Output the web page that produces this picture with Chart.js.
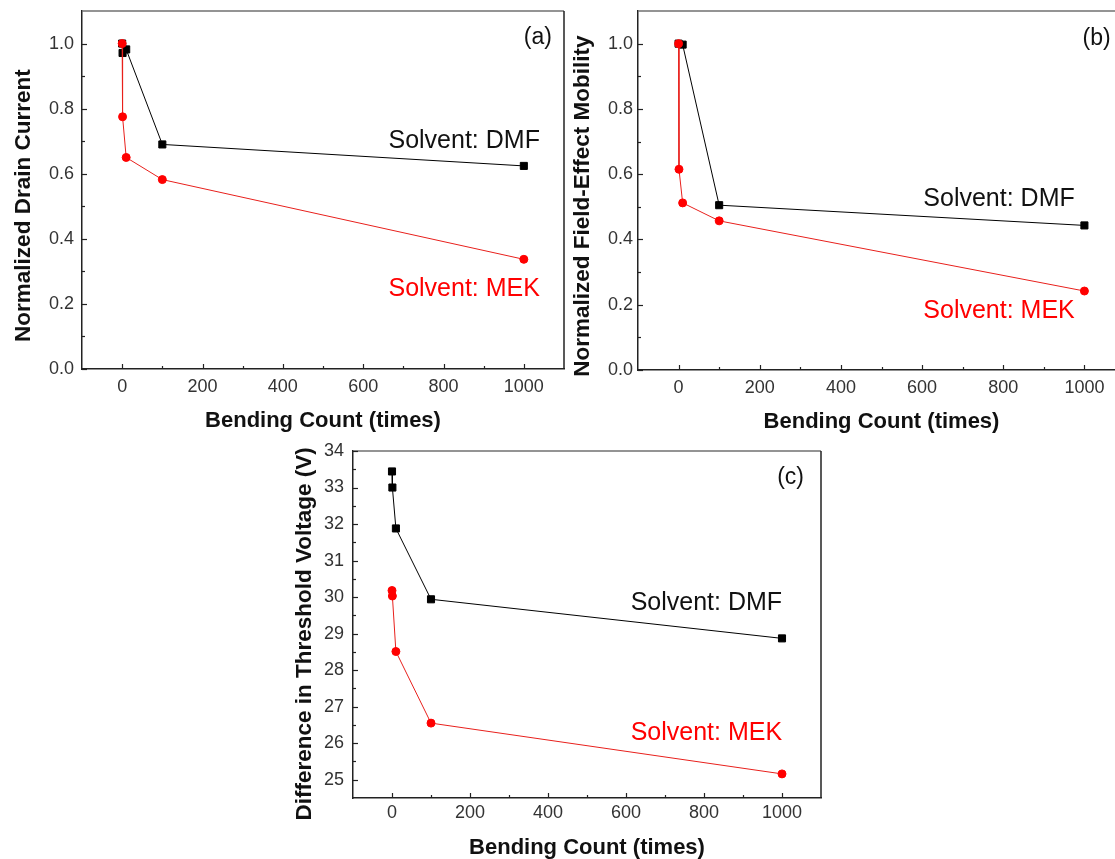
<!DOCTYPE html>
<html>
<head>
<meta charset="utf-8">
<script src="https://cdn.jsdelivr.net/npm/chart.js@4/dist/chart.umd.min.js"></script>
<style>
html, body { margin: 0; padding: 0; background: #ffffff; overflow: hidden; width: 1115px; height: 859px; }
canvas { position: absolute; display: block; }
</style>
</head>
<body>
<canvas id="ca" width="580" height="440" style="left:0px;top:0px"></canvas>
<canvas id="cb" width="580" height="440" style="left:560px;top:0px"></canvas>
<canvas id="cc" width="560" height="429" style="left:280px;top:430px"></canvas>
<script>
// ---------- data ----------
const bendCount   = [0, 1, 10, 100, 1000];
const xTicks      = [0, 200, 400, 600, 800, 1000];
const xMinor      = [100, 300, 500, 700, 900];
const normTicks   = [0, 0.2, 0.4, 0.6, 0.8, 1.0];
const normMinor   = [0.1, 0.3, 0.5, 0.7, 0.9];
const vthTicks    = [25, 26, 27, 28, 29, 30, 31, 32, 33, 34];
const vthMinor    = [25.5, 26.5, 27.5, 28.5, 29.5, 30.5, 31.5, 32.5, 33.5];

const drainMEK    = [1.0, 0.775, 0.65, 0.582, 0.337];
const drainDMF    = [1.0, 0.971, 0.982, 0.69, 0.624];
const mobilityMEK = [1.0, 0.615, 0.512, 0.457, 0.242];
const mobilityDMF = [1.0, null, 0.997, 0.505, 0.443];
const vthMEK      = [30.18, 30.03, 28.51, 26.55, 25.16];
const vthDMF      = [33.44, 33.0, 31.88, 29.94, 28.87];

const seriesNames = ['Solvent: MEK', 'Solvent: DMF'];

// ---------- styling ----------
const FONT = 'Arial, "Liberation Sans", Helvetica, sans-serif';
const RED = '#ff0000';

function framePlugin(conf) {
  return {
    id: 'frame_' + conf.id,
    afterDraw(chart) {
      const ctx = chart.ctx;
      const a = chart.chartArea;
      const xs = chart.scales.x, ys = chart.scales.y;
      ctx.save();
      // top & right border
      ctx.lineWidth = 1.5;
      ctx.strokeStyle = '#707070';
      ctx.beginPath(); ctx.moveTo(a.left, a.top); ctx.lineTo(a.right, a.top); ctx.stroke();
      ctx.strokeStyle = '#222222';
      ctx.beginPath(); ctx.moveTo(a.right, a.top); ctx.lineTo(a.right, a.bottom); ctx.stroke();
      // inward ticks
      ctx.lineWidth = 1.2;
      ctx.strokeStyle = '#222222';
      const tick = (vals, len, axis) => {
        vals.forEach(v => {
          ctx.beginPath();
          if (axis === 'x') {
            const p = Math.round(xs.getPixelForValue(v)) + 0.5;
            ctx.moveTo(p, a.bottom); ctx.lineTo(p, a.bottom - len);
          } else {
            const p = Math.round(ys.getPixelForValue(v)) + 0.5;
            ctx.moveTo(a.left, p); ctx.lineTo(a.left + len, p);
          }
          ctx.stroke();
        });
      };
      tick(conf.xMajor, 5, 'x'); tick(conf.xMinor, 3, 'x');
      tick(conf.yMajor, 5, 'y'); tick(conf.yMinor, 3, 'y');
      // annotations
      ctx.textBaseline = 'middle';
      conf.notes.forEach(n => {
        ctx.font = n.size + 'px ' + FONT;
        ctx.fillStyle = n.color;
        ctx.textAlign = n.align;
        ctx.fillText(n.text, xs.getPixelForValue(n.x), ys.getPixelForValue(n.y));
      });
      ctx.restore();
    }
  };
}

function makeChart(conf) {
  const mk = (vals) => bendCount.map((x, i) => ({ x: x, y: vals[i] }));
  return new Chart(document.getElementById(conf.id), {
    type: 'line',
    data: {
      datasets: [
        { label: seriesNames[0], data: mk(conf.mek), borderColor: '#e8201c', borderWidth: 1,
          pointStyle: 'circle', pointRadius: 4, pointBackgroundColor: RED, pointBorderColor: RED,
          pointBorderWidth: 1, spanGaps: true, tension: 0, clip: false },
        { label: seriesNames[1], data: mk(conf.dmf), borderColor: '#000000', borderWidth: 1,
          pointStyle: 'rect', pointRadius: 5, pointBackgroundColor: '#000000', pointBorderColor: '#000000',
          pointBorderWidth: 1, spanGaps: true, tension: 0, clip: false }
      ]
    },
    options: {
      responsive: false, animation: false, devicePixelRatio: 1,
      layout: { padding: { top: conf.padTop, right: conf.padRight, left: 0, bottom: 0 } },
      plugins: { legend: { display: false }, tooltip: { enabled: false } },
      scales: {
        x: {
          type: 'linear', min: -100, max: 1100,
          afterBuildTicks: s => { s.ticks = xTicks.map(v => ({ value: v })); },
          afterFit: s => { s.height = conf.xAxisH; s.paddingLeft = 0; s.paddingRight = 0; s.paddingTop = 0; s.paddingBottom = 0; },
          grid: { display: false, drawTicks: false },
          border: { display: true, color: '#222222', width: 1.5 },
          ticks: { padding: conf.xTickPad, color: '#333333', font: { family: FONT, size: 18 }, maxRotation: 0, autoSkip: false,
                   callback: v => String(v) },
          title: { display: true, text: 'Bending Count (times)', color: '#111111',
                   font: { family: FONT, size: 22, weight: 'bold', lineHeight: 1 },
                   padding: { top: 0, bottom: conf.xTitlePad } }
        },
        y: {
          type: 'linear', min: conf.yMin, max: conf.yMax,
          afterBuildTicks: s => { s.ticks = conf.yMajor.map(v => ({ value: v })); },
          afterFit: s => { s.width = conf.yAxisW; s.paddingLeft = 0; s.paddingRight = 0; s.paddingTop = 0; s.paddingBottom = 0; },
          grid: { display: false, drawTicks: false },
          border: { display: true, color: '#222222', width: 1.5 },
          ticks: { padding: conf.yTickPad, color: '#333333', font: { family: FONT, size: 18 },
                   autoSkip: false, callback: v => conf.fmt(v) },
          title: { display: true, text: conf.yTitle, color: '#111111',
                   font: { family: FONT, size: 22.5, weight: 'bold', lineHeight: 1 },
                   padding: { top: conf.yTitlePad, bottom: 0 } }
        }
      }
    },
    plugins: [framePlugin(conf)]
  });
}

makeChart({
  id: 'ca', mek: drainMEK, dmf: drainDMF,
  yMin: 0, yMax: 1.1, yMajor: normTicks, yMinor: normMinor, xMajor: xTicks, xMinor: xMinor,
  fmt: v => v.toFixed(1),
  padTop: 11, padRight: 16, xAxisH: 71, yAxisW: 82,
  xTickPad: 7, yTickPad: 8, xTitlePad: 8, yTitlePad: 13,
  yTitle: 'Normalized Drain Current     ',
  notes: [
    { text: 'Solvent: DMF', x: 663, y: 0.70, color: '#111111', align: 'left', size: 25 },
    { text: 'Solvent: MEK', x: 663, y: 0.245, color: RED, align: 'left', size: 25 },
    { text: '(a)', x: 1035, y: 1.018, color: '#111111', align: 'center', size: 23 }
  ]
});

makeChart({
  id: 'cb', mek: mobilityMEK, dmf: mobilityDMF,
  yMin: 0, yMax: 1.1, yMajor: normTicks, yMinor: normMinor, xMajor: xTicks, xMinor: xMinor,
  fmt: v => v.toFixed(1),
  padTop: 11, padRight: 15, xAxisH: 70, yAxisW: 78,
  xTickPad: 7, yTickPad: 5, xTitlePad: 7, yTitlePad: 12,
  yTitle: 'Normalized Field-Effect Mobility     ',
  notes: [
    { text: 'Solvent: DMF', x: 603, y: 0.523, color: '#111111', align: 'left', size: 25 },
    { text: 'Solvent: MEK', x: 603, y: 0.18, color: RED, align: 'left', size: 25 },
    { text: '(b)', x: 1030, y: 1.016, color: '#111111', align: 'center', size: 23 }
  ]
});

makeChart({
  id: 'cc', mek: vthMEK, dmf: vthDMF,
  yMin: 24.5, yMax: 34, yMajor: vthTicks, yMinor: vthMinor, xMajor: xTicks, xMinor: xMinor,
  fmt: v => String(v),
  padTop: 21, padRight: 19, xAxisH: 61, yAxisW: 73,
  xTickPad: 4, yTickPad: 9, xTitlePad: 0, yTitlePad: 14,
  yTitle: 'Difference in Threshold Voltage (V)   ',
  notes: [
    { text: 'Solvent: DMF', x: 612, y: 29.83, color: '#111111', align: 'left', size: 25 },
    { text: 'Solvent: MEK', x: 612, y: 26.28, color: RED, align: 'left', size: 25 },
    { text: '(c)', x: 1022, y: 33.26, color: '#111111', align: 'center', size: 23 }
  ]
});
</script>
</body>
</html>
